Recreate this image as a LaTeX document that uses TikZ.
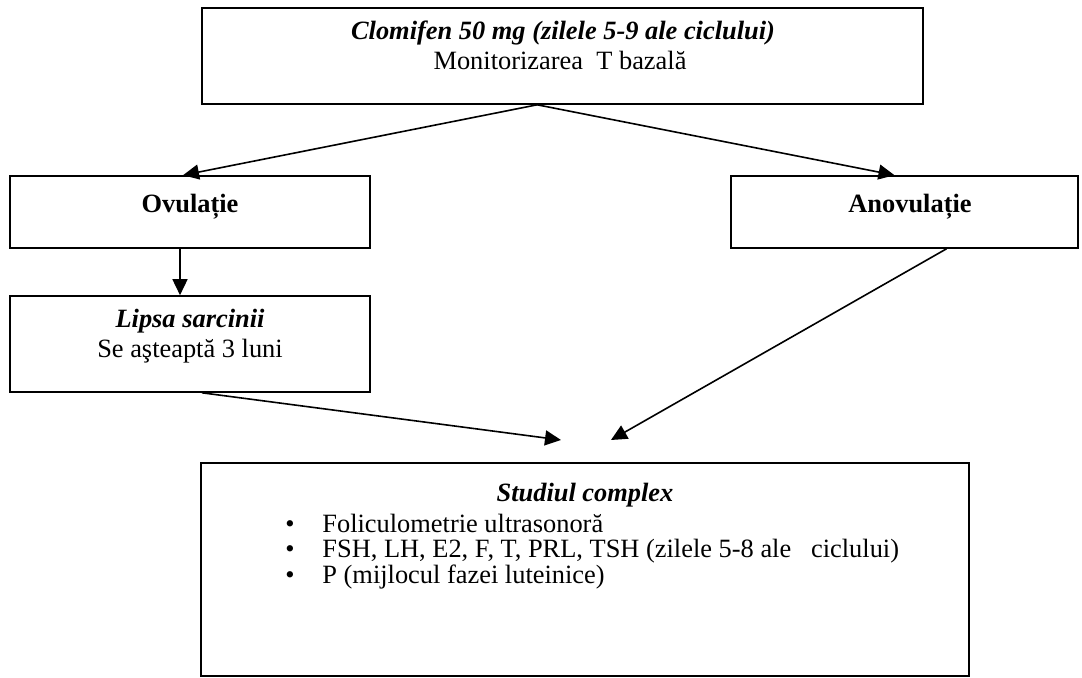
\documentclass[tikz,border=0pt]{standalone}
\usepackage{fontspec}
\setmainfont{Liberation Serif}
\usetikzlibrary{calc}
\usetikzlibrary{fit}
\usetikzlibrary{arrows.meta}

\begin{document}
\begin{tikzpicture}[x=0.5pt, y=-0.5pt,
        box/.style={draw, line width=0.8pt, inner sep=0pt},
        txt/.style={inner sep=0pt, anchor=base, font=\fontsize{13.2pt}{15pt}\selectfont},
        item/.style={txt, anchor=base west},
        arr/.style={draw, line width=0.8pt, -{Triangle[length=8pt, width=7.5pt]}}]
        \useasboundingbox (0,0) rectangle (1082,678);

        \node[box, fit={(202,8) (923,104)}] (clomifen) {};
        \node[txt] (clomifen title) at (563,40) {\textbf{\textit{Clomifen 50 mg (zilele 5-9 ale ciclului)}}};
        \node[txt] (clomifen sub) at (560,70) {Monitorizarea\ \ T bazală};
        \coordinate (split) at ($(clomifen.south west)!0.465!(clomifen.south east)$);

        \node[box, fit={(10,176) (370,248)}] (ovul) {};
        \node[txt] (ovul title) at (190,213) {\textbf{Ovulație}};

        \node[box, fit={(731,176) (1078,248)}] (anov) {};
        \node[txt] (anov title) at (910,213) {\textbf{Anovulație}};

        \node[box, fit={(10,296) (370,392)}] (lipsa) {};
        \node[txt] (lipsa title) at (190,328) {\textbf{\textit{Lipsa sarcinii}}};
        \node[txt] (lipsa sub) at (190,358) {Se aşteaptă 3 luni};

        \node[box, fit={(201,463) (969,676)}] (studiu) {};
        \node[txt] (studiu title) at (585,502) {\textbf{\textit{Studiul complex}}};
        \node[txt] (dot 1) at (290,532) {•};
        \node[item] (item 1) at (322,532) {Foliculometrie ultrasonoră};
        \node[txt] (dot 2) at (290,558) {•};
        \node[item] (item 2) at (322,558) {FSH, LH, E2, F, T, PRL, TSH (zilele 5-8 ale\ \ \ ciclului)};
        \node[txt] (dot 3) at (290,583) {•};
        \node[item] (item 3) at (322,583) {P (mijlocul fazei luteinice)};

        \coordinate (meet left) at (561,440);
        \coordinate (meet right) at (611,440);

        \draw[arr] (split) -- ($(ovul.north)+(-7,0)$);
        \draw[arr] (split) -- ($(anov.north)+(-10,0)$);
        \draw[arr] ($(ovul.south)+(-10,0)$) -- ($(lipsa.north)+(-10,0)$);
        \draw[arr] ($(lipsa.south)+(12,0)$) -- (meet left);
        \draw[arr] ($(anov.south)+(42,0)$) -- (meet right);
\end{tikzpicture}
\end{document}
